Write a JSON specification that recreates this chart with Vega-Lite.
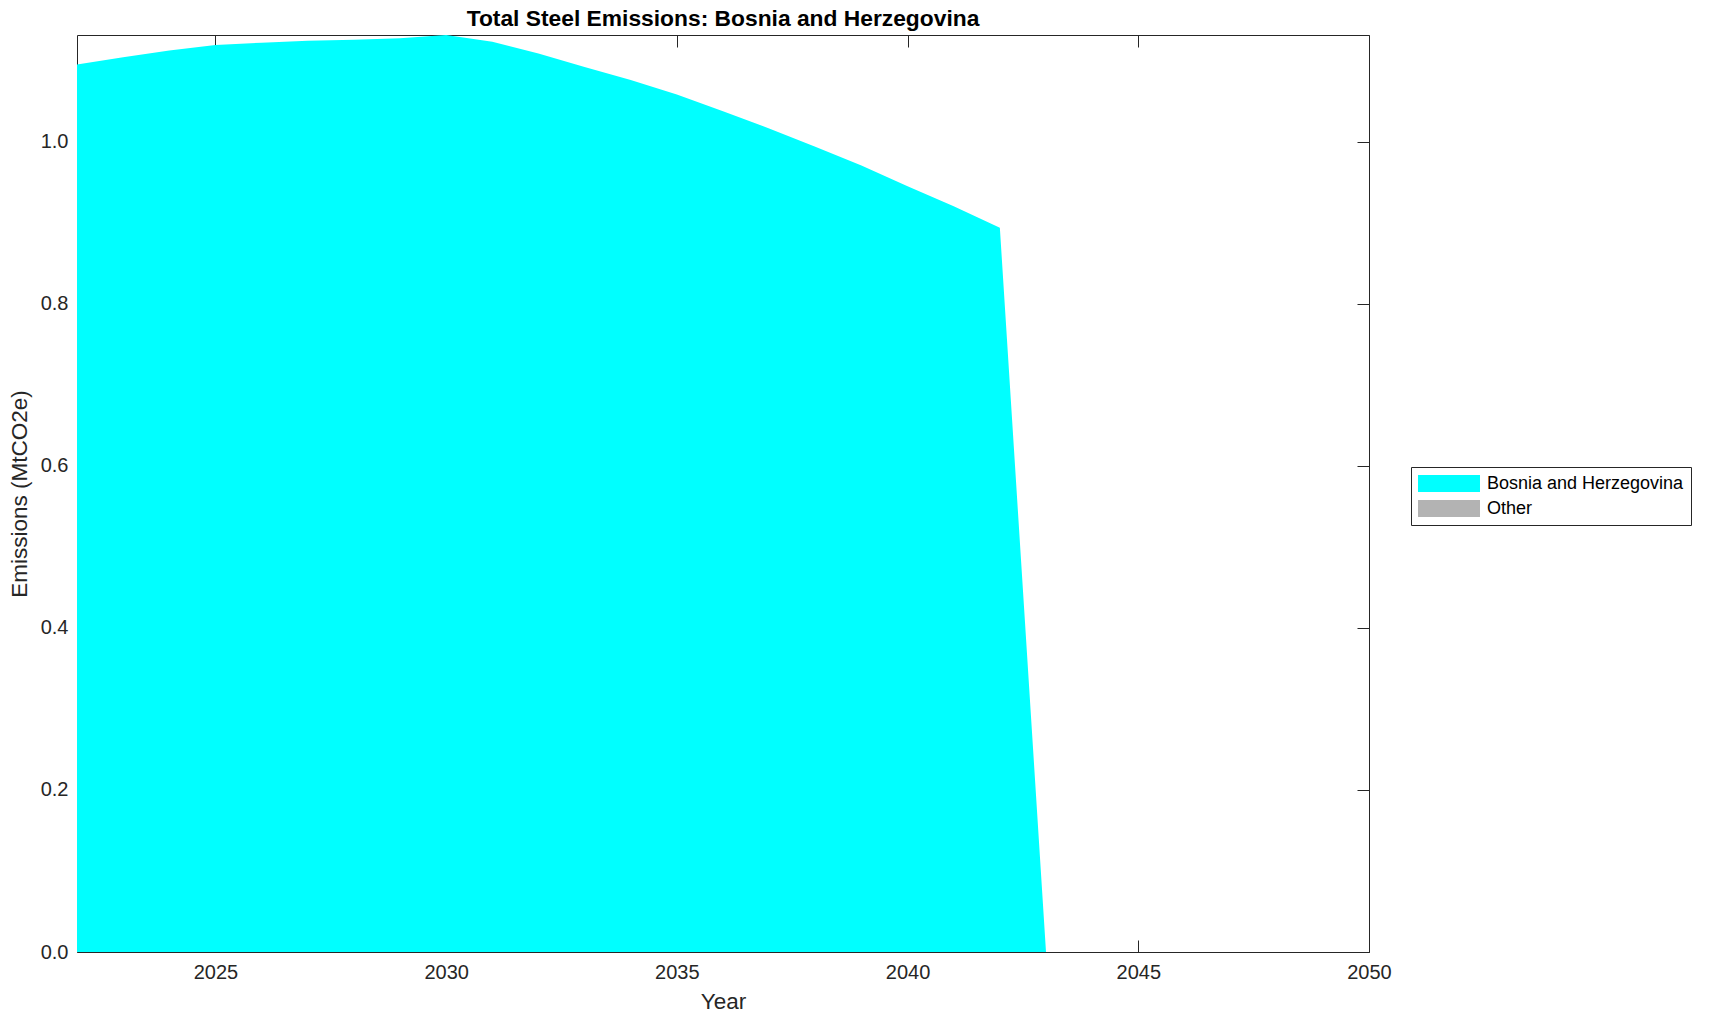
{
  "$schema": "https://vega.github.io/schema/vega-lite/v6.json",
  "autosize": {"type": "none"},
  "padding": {"left": 77, "top": 35, "right": 341, "bottom": 69},
  "width": 1292,
  "height": 917,
  "background": "white",
  "config": {
    "view": {"stroke": "#262626", "strokeWidth": 1},
    "font": "Liberation Sans",
    "axis": {
      "grid": false,
      "domain": false,
      "tickColor": "#262626",
      "tickWidth": 1,
      "labelColor": "#262626",
      "titleColor": "#262626",
      "labelFont": "Liberation Sans",
      "titleFont": "Liberation Sans",
      "labelFontSize": 20,
      "titleFontSize": 22.5,
      "titleFontWeight": "normal",
      "labelFlush": false
    }
  },
  "title": {
    "text": "Total Steel Emissions: Bosnia and Herzegovina",
    "fontSize": 22.8,
    "fontWeight": "bold",
    "font": "Liberation Sans",
    "color": "#000000",
    "anchor": "middle",
    "offset": 4
  },
  "data": {
    "values": [
      {"year": 2022, "value": 1.0957, "region": "Bosnia and Herzegovina"},
      {"year": 2023, "value": 1.1045, "region": "Bosnia and Herzegovina"},
      {"year": 2024, "value": 1.113, "region": "Bosnia and Herzegovina"},
      {"year": 2025, "value": 1.1196, "region": "Bosnia and Herzegovina"},
      {"year": 2026, "value": 1.1225, "region": "Bosnia and Herzegovina"},
      {"year": 2027, "value": 1.125, "region": "Bosnia and Herzegovina"},
      {"year": 2028, "value": 1.126, "region": "Bosnia and Herzegovina"},
      {"year": 2029, "value": 1.128, "region": "Bosnia and Herzegovina"},
      {"year": 2030, "value": 1.132, "region": "Bosnia and Herzegovina"},
      {"year": 2031, "value": 1.1237, "region": "Bosnia and Herzegovina"},
      {"year": 2032, "value": 1.1093, "region": "Bosnia and Herzegovina"},
      {"year": 2033, "value": 1.0924, "region": "Bosnia and Herzegovina"},
      {"year": 2034, "value": 1.0763, "region": "Bosnia and Herzegovina"},
      {"year": 2035, "value": 1.0587, "region": "Bosnia and Herzegovina"},
      {"year": 2036, "value": 1.038, "region": "Bosnia and Herzegovina"},
      {"year": 2037, "value": 1.0167, "region": "Bosnia and Herzegovina"},
      {"year": 2038, "value": 0.994, "region": "Bosnia and Herzegovina"},
      {"year": 2039, "value": 0.971, "region": "Bosnia and Herzegovina"},
      {"year": 2040, "value": 0.9454, "region": "Bosnia and Herzegovina"},
      {"year": 2041, "value": 0.9207, "region": "Bosnia and Herzegovina"},
      {"year": 2042, "value": 0.894, "region": "Bosnia and Herzegovina"},
      {"year": 2043, "value": 0, "region": "Bosnia and Herzegovina"},
      {"year": 2044, "value": 0, "region": "Bosnia and Herzegovina"},
      {"year": 2045, "value": 0, "region": "Bosnia and Herzegovina"},
      {"year": 2046, "value": 0, "region": "Bosnia and Herzegovina"},
      {"year": 2047, "value": 0, "region": "Bosnia and Herzegovina"},
      {"year": 2048, "value": 0, "region": "Bosnia and Herzegovina"},
      {"year": 2049, "value": 0, "region": "Bosnia and Herzegovina"},
      {"year": 2050, "value": 0, "region": "Bosnia and Herzegovina"},
      {"year": 2022, "value": 0, "region": "Other"},
      {"year": 2023, "value": 0, "region": "Other"},
      {"year": 2024, "value": 0, "region": "Other"},
      {"year": 2025, "value": 0, "region": "Other"},
      {"year": 2026, "value": 0, "region": "Other"},
      {"year": 2027, "value": 0, "region": "Other"},
      {"year": 2028, "value": 0, "region": "Other"},
      {"year": 2029, "value": 0, "region": "Other"},
      {"year": 2030, "value": 0, "region": "Other"},
      {"year": 2031, "value": 0, "region": "Other"},
      {"year": 2032, "value": 0, "region": "Other"},
      {"year": 2033, "value": 0, "region": "Other"},
      {"year": 2034, "value": 0, "region": "Other"},
      {"year": 2035, "value": 0, "region": "Other"},
      {"year": 2036, "value": 0, "region": "Other"},
      {"year": 2037, "value": 0, "region": "Other"},
      {"year": 2038, "value": 0, "region": "Other"},
      {"year": 2039, "value": 0, "region": "Other"},
      {"year": 2040, "value": 0, "region": "Other"},
      {"year": 2041, "value": 0, "region": "Other"},
      {"year": 2042, "value": 0, "region": "Other"},
      {"year": 2043, "value": 0, "region": "Other"},
      {"year": 2044, "value": 0, "region": "Other"},
      {"year": 2045, "value": 0, "region": "Other"},
      {"year": 2046, "value": 0, "region": "Other"},
      {"year": 2047, "value": 0, "region": "Other"},
      {"year": 2048, "value": 0, "region": "Other"},
      {"year": 2049, "value": 0, "region": "Other"},
      {"year": 2050, "value": 0, "region": "Other"}
    ]
  },
  "layer": [
    {
      "mark": {"type": "area", "interpolate": "linear", "opacity": 1},
      "encoding": {
        "x": {
          "field": "year", "type": "quantitative",
          "scale": {"domain": [2022, 2050], "nice": false, "zero": false},
          "axis": {"title": "Year", "values": [2025, 2030, 2035, 2040, 2045, 2050], "format": "d", "tickSize": -12, "labelPadding": 22, "titlePadding": 8, "orient": "bottom"}
        },
        "y": {
          "field": "value", "type": "quantitative", "stack": "zero",
          "scale": {"domain": [0, 1.132], "nice": false},
          "axis": {"title": "Emissions (MtCO2e)", "values": [0, 0.2, 0.4, 0.6, 0.8, 1.0], "format": ".1f", "tickSize": -12, "labelPadding": 21, "titlePadding": 9, "orient": "left"}
        },
        "color": {
          "field": "region", "type": "nominal",
          "scale": {"domain": ["Bosnia and Herzegovina", "Other"], "range": ["#00ffff", "#b3b3b3"]},
          "legend": {
            "title": null,
            "titleFontSize": 0,
            "titlePadding": 0,
            "orient": "none",
            "legendX": 1334,
            "legendY": 432,
            "direction": "vertical",
            "symbolType": "M-1,-0.5H2.647V0.5H-1Z",
            "symbolSize": 1156,
            "symbolStrokeWidth": 0,
            "symbolOpacity": 1,
            "clipHeight": 19,
            "labelOffset": 35,
            "labelLimit": 250,
            "labelFont": "Liberation Sans",
            "labelFontSize": 18,
            "labelColor": "#000000",
            "rowPadding": 6,
            "padding": 7,
            "strokeColor": "#262626",
            "fillColor": "white"
          }
        },
        "order": {"field": "region", "sort": "ascending"}
      }
    },
    {
      "mark": {"type": "area", "opacity": 0},
      "encoding": {
        "x": {
          "field": "year", "type": "quantitative",
          "scale": {"domain": [2022, 2050], "nice": false, "zero": false},
          "axis": {"title": null, "values": [2025, 2030, 2035, 2040, 2045, 2050], "labels": false, "tickSize": -12, "orient": "top"}
        },
        "y": {
          "field": "value", "type": "quantitative", "stack": null,
          "scale": {"domain": [0, 1.132], "nice": false},
          "axis": {"title": null, "values": [0, 0.2, 0.4, 0.6, 0.8, 1.0], "labels": false, "tickSize": -12, "orient": "right"}
        }
      }
    }
  ],
  "resolve": {"scale": {"x": "independent", "y": "independent"}, "axis": {"x": "independent", "y": "independent"}}
}
